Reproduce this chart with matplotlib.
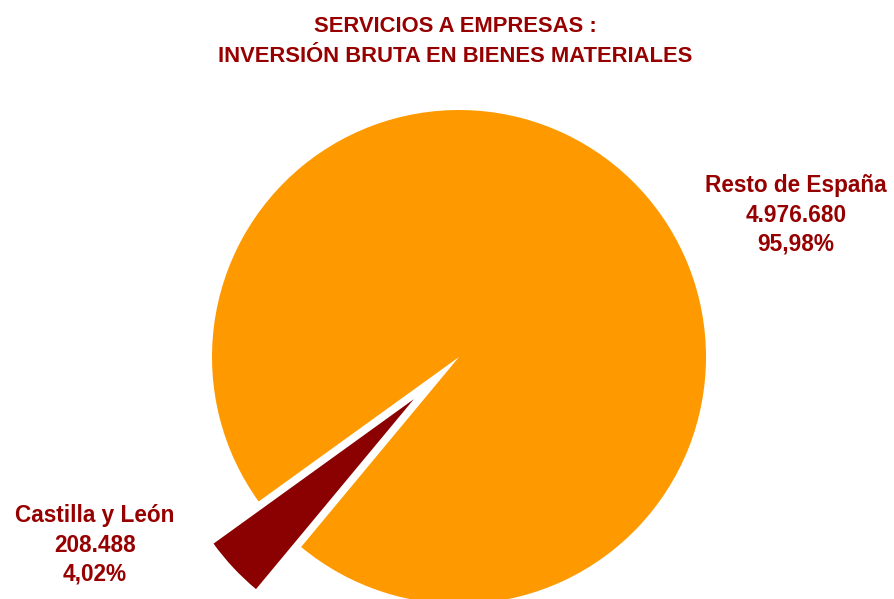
import matplotlib
matplotlib.use("Agg")
import matplotlib.pyplot as plt

# data
regiones = ["Castilla y León", "Resto de España"]
inversion = [208488, 4976680]
colores = ["#8B0000", "#FF9900"]

titulo = ["SERVICIOS A EMPRESAS :", "INVERSIÓN BRUTA EN BIENES MATERIALES"]
texto_color = "#960000"

plt.rcParams['font.family'] = ['Liberation Sans', 'DejaVu Sans']

W, H = 894, 599
fig = plt.figure(figsize=(W / 100, H / 100), dpi=100)
ax = fig.add_axes([0, 0, 1, 1])

total = sum(inversion)
radio = 247
# pie works in pixel data units here, so explode is scaled by the radius
ax.pie(inversion, colors=colores, startangle=215.8,
       explode=[0.25 * radio, 0],
       center=(459, H - 357), radius=radio,
       wedgeprops={'linewidth': 0})
ax.set_xlim(0, W)
ax.set_ylim(0, H)
ax.set_aspect('equal')
ax.axis('off')


def fmt_num(v):
    return f"{v:,}".replace(',', '.')


def fmt_pct(v):
    return f"{v / total * 100:.2f}%".replace('.', ',')


# labels: (x centre, baselines) in pixels from top
posiciones = [(95, [522, 552, 581]), (796, [192, 222, 250])]
for nombre, v, (x, ys) in zip(regiones, inversion, posiciones):
    for linea, y in zip([nombre, fmt_num(v), fmt_pct(v)], ys):
        fig.text(x / W, 1 - y / H, linea, ha='center', va='baseline',
                 fontsize=16.3, fontweight='bold', color=texto_color)

for linea, y in zip(titulo, [32, 62]):
    fig.text(455 / W, 1 - y / H, linea, ha='center', va='baseline',
             fontsize=15.8, fontweight='bold', color=texto_color)

fig.savefig("out.png", dpi=100)
